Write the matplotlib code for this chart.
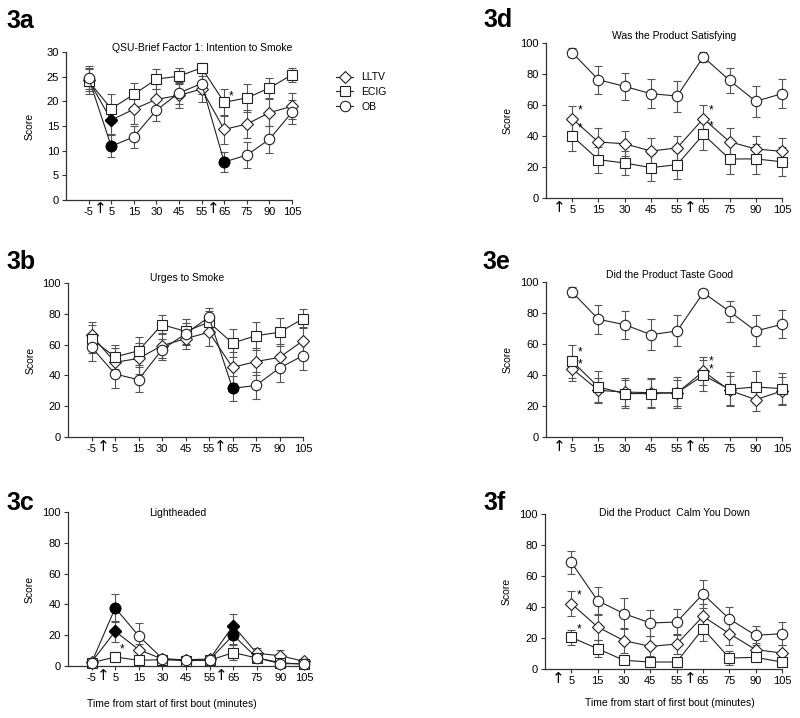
import numpy as np
import matplotlib.pyplot as plt
from matplotlib.lines import Line2D
import matplotlib.transforms as mtransforms

plt.rcParams['font.family'] = ['Liberation Sans', 'DejaVu Sans']

# time points (minutes); left panels start at -5, right panels at 5
times = ['-5', '5', '15', '30', '45', '55', '65', '75', '90', '105']

# 3a QSU-Brief Factor 1
a_lltv = [24.3, 16.2, 18.4, 20.4, 21.2, 22.5, 14.3, 15.4, 17.7, 19.0]
a_lltv_err = [2.3, 2.8, 3.0, 2.0, 2.5, 2.6, 2.9, 2.8, 2.7, 2.6]
a_ecig = [24.1, 18.5, 21.4, 24.5, 25.1, 26.8, 19.8, 20.7, 22.7, 25.4]
a_ecig_err = [2.6, 2.9, 2.3, 2.1, 1.6, 1.0, 2.8, 2.8, 2.0, 1.4]
a_ob = [24.8, 10.9, 12.8, 18.2, 21.7, 23.6, 7.7, 9.1, 12.3, 17.8]
a_ob_err = [2.3, 2.2, 2.2, 2.1, 2.2, 2.2, 2.1, 2.6, 2.8, 2.4]

# 3b Urges to Smoke
b_lltv = [66.0, 48.5, 51.0, 59.3, 63.9, 68.0, 45.2, 49.0, 51.7, 62.5]
b_lltv_err = [9, 9, 10, 8, 7, 9, 10, 9, 9, 9]
b_ecig = [63.6, 52.0, 56.0, 73.0, 68.6, 74.5, 61.0, 65.8, 68.0, 76.8]
b_ecig_err = [9, 8, 9, 6, 8, 7, 9, 9, 9, 6]
b_ob = [58.4, 40.9, 37.2, 56.7, 67.0, 77.9, 31.6, 33.5, 44.8, 52.8]
b_ob_err = [9, 9, 8, 7, 7, 6, 8, 9, 9, 9]

# 3c Lightheaded
c_lltv = [2.6, 22.5, 10.6, 4.5, 4.1, 4.5, 26.2, 8.2, 6.7, 3.0]
c_lltv_err = [1.5, 7, 4, 2, 1.5, 2.5, 7.8, 3.5, 3.5, 1]
c_ecig = [2.2, 5.8, 3.7, 4.1, 3.5, 3.7, 8.7, 5.2, 2.2, 1.1]
c_ecig_err = [1, 3, 2, 1.5, 1.5, 2, 5, 2, 1, 0.5]
c_ob = [2.2, 37.7, 19.5, 4.8, 3.7, 4.1, 20.0, 5.4, 1.5, 1.5]
c_ob_err = [1, 9, 8.5, 2, 1.5, 2, 6, 2.5, 1, 0.5]

# 3d Was the Product Satisfying (from 5 min)
d_lltv = [51.2, 36.1, 35.0, 30.3, 32.3, 51.2, 36.3, 31.6, 30.1]
d_lltv_err = [8, 9, 8, 8.5, 8, 9, 9, 8.5, 8.5]
d_ecig = [40.0, 24.7, 22.6, 19.6, 21.5, 41.0, 25.2, 25.2, 23.4]
d_ecig_err = [9.5, 8.5, 8, 8.5, 9, 10, 10, 9.5, 9.5]
d_ob = [93.8, 76.3, 72.0, 67.3, 65.8, 91.0, 75.9, 62.4, 67.3]
d_ob_err = [3, 9, 8.5, 9.5, 10, 3, 8, 10, 9.5]

# 3e Did the Product Taste Good
e_lltv = [44.0, 30.1, 29.0, 28.6, 28.4, 42.4, 30.1, 24.1, 29.7]
e_lltv_err = [8, 8, 9, 9.5, 8.5, 9, 9.5, 7.5, 9]
e_ecig = [48.8, 32.3, 28.0, 28.0, 28.6, 39.8, 30.8, 32.3, 31.2]
e_ecig_err = [10.5, 10, 9, 9.5, 10, 10, 11, 10.5, 10]
e_ob = [93.5, 75.9, 72.5, 66.0, 68.4, 93.1, 81.0, 68.4, 72.7]
e_ob_err = [3, 9.5, 9, 10, 10, 2.5, 7, 10, 9]

# 3f Did the Product Calm You Down
f_lltv = [42.2, 27.1, 18.3, 14.6, 16.1, 34.0, 22.8, 12.5, 10.3]
f_lltv_err = [8, 8.5, 8, 6.5, 6.5, 8, 7.5, 4, 5.5]
f_ecig = [20.4, 13.1, 5.6, 4.5, 4.5, 26.0, 7.1, 7.5, 4.5]
f_ecig_err = [5, 5.5, 2, 1.5, 1.5, 8, 4.5, 3, 1.5]
f_ob = [68.8, 44.1, 35.7, 29.7, 30.3, 48.4, 32.3, 21.7, 22.8]
f_ob_err = [7.5, 9, 10, 8.5, 8.5, 9, 8, 6, 7.5]

markers = {'LLTV': 'D', 'ECIG': 's', 'OB': 'o'}
msizes = {'LLTV': 6, 'ECIG': 6.5, 'OB': 7.5}

fig = plt.figure(figsize=(8, 7.18), dpi=100)
W, H = 800, 718


def px_axes(l, r, t, b):
    return fig.add_axes([l / W, 1 - b / H, (r - l) / W, (b - t) / H])


# stars: series -> list of (time index, offset in fraction of y range)
panels = [
    dict(tag='3a', title='QSU-Brief Factor 1: Intention to Smoke', box=(66, 292, 52, 200),
         ymax=30, ystep=5, start=0,
         series=[('LLTV', a_lltv, a_lltv_err), ('ECIG', a_ecig, a_ecig_err), ('OB', a_ob, a_ob_err)],
         filled={'LLTV': [1], 'OB': [1, 6]}, stars={'ECIG': [(6, 0.04)]},
         tagpos=(6, 21), titlepos=(202, 48)),
    dict(tag='3b', title='Urges to Smoke', box=(68, 303, 283, 437),
         ymax=100, ystep=20, start=0,
         series=[('LLTV', b_lltv, b_lltv_err), ('ECIG', b_ecig, b_ecig_err), ('OB', b_ob, b_ob_err)],
         filled={'OB': [6]}, stars={},
         tagpos=(6, 262), titlepos=(187, 278)),
    dict(tag='3c', title='Lightheaded', box=(68, 304, 512, 666),
         ymax=100, ystep=20, start=0,
         series=[('LLTV', c_lltv, c_lltv_err), ('ECIG', c_ecig, c_ecig_err), ('OB', c_ob, c_ob_err)],
         filled={'LLTV': [1, 6], 'OB': [1, 6]}, stars={'ECIG': [(1, 0.05)]},
         tagpos=(6, 503), titlepos=(178, 513)),
    dict(tag='3d', title='Was the Product Satisfying', box=(546, 782, 43, 198),
         ymax=100, ystep=20, start=1,
         series=[('LLTV', d_lltv, d_lltv_err), ('ECIG', d_ecig, d_ecig_err), ('OB', d_ob, d_ob_err)],
         filled={}, stars={'LLTV': [(1, 0.05), (6, 0.05)], 'ECIG': [(1, 0.05), (6, 0.05)]},
         tagpos=(483, 20), titlepos=(674, 36)),
    dict(tag='3e', title='Did the Product Taste Good', box=(546, 782, 282, 437),
         ymax=100, ystep=20, start=1,
         series=[('LLTV', e_lltv, e_lltv_err), ('ECIG', e_ecig, e_ecig_err), ('OB', e_ob, e_ob_err)],
         filled={}, stars={'LLTV': [(1, 0.03), (6, 0.065)], 'ECIG': [(1, 0.055), (6, 0.035)]},
         tagpos=(482, 262), titlepos=(670, 275)),
    dict(tag='3f', title='Did the Product  Calm You Down', box=(545, 782, 514, 669),
         ymax=100, ystep=20, start=1,
         series=[('LLTV', f_lltv, f_lltv_err), ('ECIG', f_ecig, f_ecig_err), ('OB', f_ob, f_ob_err)],
         filled={}, stars={'LLTV': [(1, 0.05)], 'ECIG': [(1, 0.05)]},
         tagpos=(483, 503), titlepos=(674, 513)),
]

for p in panels:
    ax = px_axes(*p['box'])
    start = p['start']
    x = np.arange(start, len(times))
    for name, vals, err in p['series']:
        eb = ax.errorbar(x, vals, yerr=err, fmt='-', color='#222222', lw=0.8,
                         ecolor='#555555', elinewidth=0.8, capsize=3, capthick=0.8,
                         marker=markers[name], ms=msizes[name], mfc='white', mec='#222222',
                         mew=0.8, zorder=3)
        for art in [eb.lines[0]] + list(eb.lines[1]) + list(eb.lines[2]):
            art.set_clip_on(False)
        idx = p['filled'].get(name, [])
        if idx:
            ax.plot(x[idx], np.array(vals)[idx], linestyle='none', marker=markers[name],
                    ms=msizes[name], mfc='black', mec='black', zorder=4, clip_on=False)
        for i, dy in p['stars'].get(name, []):
            j = i - start
            ax.text(x[j] + 0.3, vals[j] + dy * p['ymax'], '*', fontsize=8.5,
                    ha='center', va='center', zorder=5)
    ax.set_xlim(-1 if start == 0 else 0, len(times) - 1)
    ax.set_ylim(0, p['ymax'])
    ax.set_yticks(np.arange(0, p['ymax'] + 1, p['ystep']))
    ax.set_xticks(x)
    ax.set_xticklabels(times[start:])
    for s in ['top', 'right']:
        ax.spines[s].set_visible(False)
    for s in ['left', 'bottom']:
        ax.spines[s].set_color('#333333')
        ax.spines[s].set_linewidth(0.9)
    ax.tick_params(labelsize=8, length=3, width=0.8, color='#333333', pad=2)
    ax.set_ylabel('Score', fontsize=7.5)
    ax.yaxis.set_label_coords(-0.14, 0.5)
    # arrows marking start of each bout
    trans = mtransforms.blended_transform_factory(ax.transData, ax.transAxes)
    for xa in [0.5, 5.5]:
        ax.text(xa, -0.01, '\u2191', transform=trans, fontsize=11, ha='center', va='top',
                family=['DejaVu Sans'])
    fig.text(p['tagpos'][0] / W, 1 - p['tagpos'][1] / H, p['tag'], fontsize=18,
             fontweight='bold', ha='left', va='center')
    fig.text(p['titlepos'][0] / W, 1 - p['titlepos'][1] / H, p['title'], fontsize=7.5,
             ha='center', va='center')

fig.text(172 / W, 1 - 704 / H, 'Time from start of first bout (minutes)', fontsize=7.5,
         ha='center', va='center')
fig.text(670 / W, 1 - 703 / H, 'Time from start of first bout (minutes)', fontsize=7.5,
         ha='center', va='center')

handles = [Line2D([0], [0], color='#222222', lw=0.8, marker=markers[n], ms=msizes[n],
                  mfc='white', mec='#222222', mew=0.8) for n in ['LLTV', 'ECIG', 'OB']]
fig.legend(handles, ['LLTV', 'ECIG', 'OB'], loc='upper left',
           bbox_to_anchor=(327 / W, 1 - 63 / H), frameon=False, fontsize=7.5,
           handlelength=1.6, handletextpad=0.8, labelspacing=0.45)

fig.savefig('out.png', dpi=100)
